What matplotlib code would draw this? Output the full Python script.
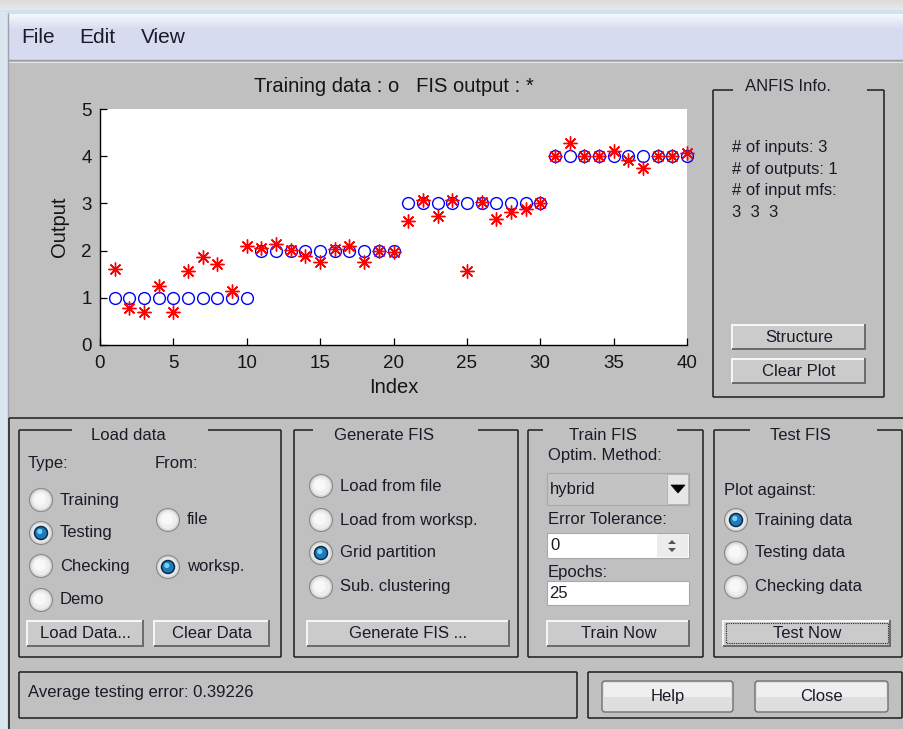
import matplotlib
matplotlib.use("Agg")
import matplotlib.pyplot as plt
from matplotlib.patches import Rectangle, FancyBboxPatch, Circle, Polygon
import numpy as np

# ---------------- data ----------------
index = [1, 2, 3, 4, 5, 6, 7, 8, 9, 10,
         11, 12, 13, 14, 15, 16, 17, 18, 19, 20,
         21, 22, 23, 24, 25, 26, 27, 28, 29, 30,
         31, 32, 33, 34, 35, 36, 37, 38, 39, 40]
training_data = [1, 1, 1, 1, 1, 1, 1, 1, 1, 1,
                 2, 2, 2, 2, 2, 2, 2, 2, 2, 2,
                 3, 3, 3, 3, 3, 3, 3, 3, 3, 3,
                 4, 4, 4, 4, 4, 4, 4, 4, 4, 4]
fis_output = [1.60, 0.78, 0.69, 1.25, 0.69, 1.56, 1.86, 1.72, 1.15, 2.09,
              2.05, 2.15, 2.02, 1.89, 1.76, 2.04, 2.09, 1.76, 2.00, 1.97,
              2.63, 3.08, 2.73, 3.08, 1.56, 3.04, 2.67, 2.82, 2.88, 3.00,
              4.00, 4.27, 4.00, 4.00, 4.11, 3.91, 3.74, 4.00, 4.00, 4.07]
x_ticks = [0, 5, 10, 15, 20, 25, 30, 35, 40]
y_ticks = [0, 1, 2, 3, 4, 5]

W, H = 904, 729
GRAY = "#c0c0c0"
TXT = "#1b1b28"
FONT = ["Liberation Sans", "DejaVu Sans"]

fig = plt.figure(figsize=(W / 100, H / 100), dpi=100, facecolor=GRAY)
bg = fig.add_axes([0, 0, 1, 1])
bg.set_xlim(0, W)
bg.set_ylim(H, 0)
bg.axis("off")
bg.set_facecolor(GRAY)


def txt(x, y, s, size=12, ha="left", **kw):
    bg.text(x, y, s, fontsize=size, ha=ha, va="center", color=TXT,
            family=kw.pop("family", FONT), **kw)


def line(xs, ys, color="#1e1e1e", lw=1.1):
    bg.plot(xs, ys, color=color, lw=lw, solid_capstyle="butt")


def frame(x0, y0, x1, y1, gap=None):
    if gap is None:
        line([x0, x1], [y0, y0])
    else:
        line([x0, gap[0]], [y0, y0])
        line([gap[1], x1], [y0, y0])
    line([x0, x0], [y0, y1])
    line([x1, x1], [y0, y1])
    line([x0, x1], [y1, y1])


def button3d(x0, y0, x1, y1, label, focus=False):
    bg.add_patch(Rectangle((x0, y0), x1 - x0, y1 - y0, facecolor="#cbcbcb",
                           edgecolor="none"))
    line([x0, x1], [y0 + 0.5, y0 + 0.5], color="#f7f7f7", lw=1.4)
    line([x0 + 0.5, x0 + 0.5], [y0, y1], color="#f7f7f7", lw=1.4)
    line([x0, x1], [y1 - 0.5, y1 - 0.5], color="#6a6a6a", lw=1.4)
    line([x1 - 0.5, x1 - 0.5], [y0, y1], color="#6a6a6a", lw=1.4)
    if focus:
        bg.add_patch(Rectangle((x0 + 3, y0 + 3), x1 - x0 - 6, y1 - y0 - 6,
                               facecolor="none", edgecolor="#222222",
                               lw=0.8, linestyle=(0, (1, 1))))
    txt((x0 + x1) / 2, (y0 + y1) / 2 + 0.5, label, ha="center")


def button_w7(x0, y0, x1, y1, label):
    bg.add_patch(FancyBboxPatch((x0, y0), x1 - x0, y1 - y0,
                                boxstyle="round,pad=0,rounding_size=3",
                                facecolor="#dedede", edgecolor="#707070", lw=1.0))
    bg.add_patch(Rectangle((x0 + 2, y0 + 2), x1 - x0 - 4, (y1 - y0) / 2 - 2,
                           facecolor="#efefef", edgecolor="none"))
    txt((x0 + x1) / 2, (y0 + y1) / 2, label, ha="center")


def radio(cx, cy, label, selected=False):
    bg.add_patch(Circle((cx, cy), 11.5, facecolor="#dcdcdc",
                        edgecolor="#8c8c8c", lw=0.9))
    bg.add_patch(Circle((cx, cy), 9, facecolor="#eeeeee", edgecolor="none"))
    bg.add_patch(Circle((cx - 1, cy - 1), 6, facecolor="#f8f8f8",
                        edgecolor="none"))
    if selected:
        bg.add_patch(Circle((cx, cy), 6.5, facecolor="#1b7cbd",
                            edgecolor="#0b2a44", lw=1.1))
        bg.add_patch(Circle((cx - 1.2, cy - 1.5), 2.6, facecolor="#7fcdf2",
                            edgecolor="none"))
    txt(cx + 19, cy, label)


# ---------------- window chrome ----------------
top = np.linspace(0, 1, 12).reshape(-1, 1)
bg.imshow(np.dstack([0.86 + 0.06 * top] * 3), extent=(0, W, 12, 0),
          aspect="auto", zorder=0)
bg.add_patch(Rectangle((0, 10), W, 4, facecolor="#cfe1f2", edgecolor="none"))
grad = np.linspace(0, 1, 46).reshape(-1, 1)
menu_r = 0.96 - 0.12 * np.clip(grad * 3, 0, 1)
menu_g = 0.97 - 0.11 * np.clip(grad * 3, 0, 1)
menu_b = 0.99 - 0.05 * np.clip(grad * 3, 0, 1)
bg.imshow(np.dstack([menu_r, menu_g, menu_b]), extent=(8, W, 60, 14),
          aspect="auto", zorder=0)
line([8, W], [60, 60], color="#9a9a9a", lw=1.0)
line([8, W], [61.5, 61.5], color="#e0e0e0", lw=0.8)
bg.add_patch(Rectangle((0, 12), 8, H - 12, facecolor="#dce6ef", edgecolor="none"))
line([8.5, 8.5], [13, H], color="#9aa3ad", lw=1.0)

txt(21, 37, "File", size=15)
txt(79, 37, "Edit", size=15)
txt(141, 37, "View", size=15)

# lower panel separator
line([9.5, W], [418, 418], color="#2a2a2a", lw=1.2)
line([9.5, 9.5], [418, H], color="#2a2a2a", lw=1.2)

# ---------------- ANFIS Info ----------------
frame(713, 90, 884, 397, gap=(733, 867))
txt(788, 86, "ANFIS Info.", ha="center")
txt(732, 147, "# of inputs: 3")
txt(732, 169, "# of outputs: 1")
txt(732, 190, "# of input mfs:")
txt(732, 212, "3  3  3")
button3d(732, 324, 866, 349, "Structure")
button3d(732, 358, 866, 383, "Clear Plot")

# ---------------- Load data ----------------
frame(19, 430, 281, 657, gap=(72, 208))
txt(128, 435, "Load data", ha="center")
txt(28, 463, "Type:")
txt(155, 463, "From:")
radio(41, 500, "Training")
radio(41, 533, "Testing", selected=True)
radio(41, 566, "Checking")
radio(41, 600, "Demo")
radio(168, 520, "file")
radio(168, 567, "worksp.", selected=True)
button3d(27, 620, 144, 646, "Load Data...")
button3d(154, 620, 270, 646, "Clear Data")

# ---------------- Generate FIS ----------------
frame(294, 430, 518, 657, gap=(313, 478))
txt(384, 435, "Generate FIS", ha="center")
radio(321, 486, "Load from file")
radio(321, 520, "Load from worksp.")
radio(321, 553, "Grid partition", selected=True)
radio(321, 587, "Sub. clustering")
button3d(307, 620, 510, 646, "Generate FIS ...")

# ---------------- Train FIS ----------------
frame(528, 430, 703, 657, gap=(543, 677))
txt(603, 435, "Train FIS", ha="center")
txt(548, 455, "Optim. Method:")
bg.add_patch(Rectangle((547, 473), 142, 32, facecolor="#c4c4c4",
                       edgecolor="#a8a8a8", lw=0.8))
bg.add_patch(Rectangle((667, 474), 21, 30, facecolor="#e6e6e6",
                       edgecolor="#b0b0b0", lw=0.6))
bg.add_patch(Polygon([[671, 485], [685, 485], [678, 493]], closed=True,
                     facecolor="black", edgecolor="black", lw=0.5))
txt(550, 489, "hybrid")
txt(548, 520, "Error Tolerance:")
bg.add_patch(Rectangle((547, 533), 142, 25, facecolor="white",
                       edgecolor="#a8a8a8", lw=0.8))
bg.add_patch(Rectangle((657, 534), 31, 23, facecolor="#ececec",
                       edgecolor="none"))
bg.add_patch(Polygon([[668, 544], [676, 544], [672, 540]], closed=True,
                     facecolor="#555555", edgecolor="none"))
bg.add_patch(Polygon([[668, 548], [676, 548], [672, 552]], closed=True,
                     facecolor="#555555", edgecolor="none"))
txt(550, 546, "0")
txt(548, 572, "Epochs:")
bg.add_patch(Rectangle((547, 581), 142, 24, facecolor="white",
                       edgecolor="#a8a8a8", lw=0.8))
txt(549, 593, "25")
button3d(547, 620, 690, 646, "Train Now")

# ---------------- Test FIS ----------------
frame(714, 430, 902, 657, gap=(750, 877))
txt(800, 435, "Test FIS", ha="center")
txt(724, 490, "Plot against:")
radio(736, 520, "Training data", selected=True)
radio(736, 553, "Testing data")
radio(736, 587, "Checking data")
button3d(723, 620, 891, 646, "Test Now", focus=True)

# ---------------- status + Help/Close ----------------
frame(19, 672, 577, 718)
txt(28, 692, "Average testing error: 0.39226")
frame(588, 672, 902, 718)
button_w7(602, 681, 733, 712, "Help")
button_w7(755, 681, 888, 712, "Close")

# ---------------- the plot ----------------
ax = fig.add_axes([100 / W, 1 - 345 / H, 587 / W, 236 / H])
ax.set_facecolor("white")
ax.plot(index, training_data, linestyle="none", marker="o", markersize=8.5,
        markerfacecolor="none", markeredgecolor="#0000ff", markeredgewidth=1.0,
        clip_on=False, zorder=3)
ax.plot(index, fis_output, linestyle="none", marker=(8, 2, 0), markersize=10,
        color="#ff0000", markeredgewidth=1.0, clip_on=False, zorder=4)
ax.set_xlim(0, 40)
ax.set_ylim(0, 5)
ax.set_xticks(x_ticks)
ax.set_yticks(y_ticks)
for s in ("top", "right"):
    ax.spines[s].set_visible(False)
for s in ("left", "bottom"):
    ax.spines[s].set_linewidth(1.0)
    ax.spines[s].set_color("black")
ax.tick_params(direction="in", length=5, width=0.9, labelsize=13.5,
               colors="black", labelcolor="#151515")
ax.tick_params(axis="x", pad=7)
ax.tick_params(axis="y", pad=6)
for lab in ax.get_xticklabels() + ax.get_yticklabels():
    lab.set_family(FONT)
ax.set_xlabel("Index", fontsize=14.5, family=FONT, color="#151515")
ax.set_ylabel("Output", fontsize=14.5, family=FONT, color="#151515")
ax.xaxis.set_label_coords(0.5, -0.14)
ax.yaxis.set_label_coords(-0.052, 0.5)
ax.set_title("Training data : o   FIS output : *", fontsize=14.5,
             family=FONT, color="#151515", pad=12)

fig.savefig("out.png", dpi=100, facecolor=GRAY)
